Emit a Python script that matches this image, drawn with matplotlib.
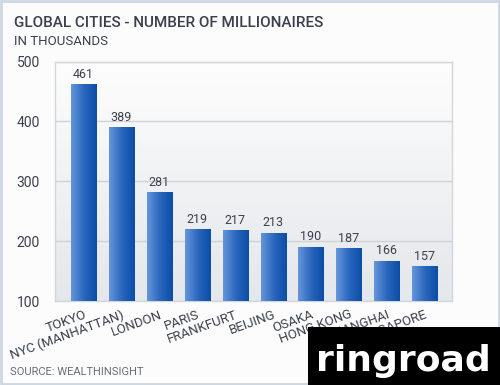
import numpy as np
import matplotlib
matplotlib.use("Agg")
import matplotlib.pyplot as plt
from matplotlib.patches import Rectangle

# data
cities = ["TOKYO", "NYC (MANHATTAN)", "LONDON", "PARIS", "FRANKFURT",
          "BEIJING", "OSAKA", "HONG KONG", "SHANGHAI", "SINGAPORE"]
millionaires = [461, 389, 281, 219, 217, 213, 190, 187, 166, 157]
y_ticks = [100, 200, 300, 400, 500]

TEXT_COLOR = "#3b404e"
plt.rcParams["font.family"] = ["Roboto", "DejaVu Sans"]

fig = plt.figure(figsize=(5.0, 3.85), dpi=100, facecolor="#fbfcfb")
ax = fig.add_axes([0.110, 0.218, 0.794, 0.622])

ax.set_xlim(-0.75, 9.72)
ax.set_ylim(100, 500)

x = np.arange(len(cities))
bars = ax.bar(x, millionaires, width=0.66, color="none",
              edgecolor="none", zorder=3)

# gradient fill on each bar (light blue left -> dark blue right)
grad = np.linspace(0, 1, 64).reshape(1, -1)
cmap = matplotlib.colors.LinearSegmentedColormap.from_list(
    "barblue", ["#6596da", "#2a67bd", "#0b4da6"])
y_bottom = ax.get_ylim()[0]
for b in bars:
    x0, w, h = b.get_x(), b.get_width(), b.get_height()
    ax.imshow(grad, extent=[x0, x0 + w, y_bottom, h], aspect="auto",
              cmap=cmap, zorder=3, interpolation="bicubic")

# plot background gradient (white top -> light gray bottom)
bg = np.linspace(0, 1, 64).reshape(-1, 1)
bg_cmap = matplotlib.colors.LinearSegmentedColormap.from_list(
    "bg", ["#e4e7eb", "#f1f2f4", "#fdfdfd"])
ax.imshow(bg, extent=[0, 1, 0, 1], transform=ax.transAxes, aspect="auto",
          cmap=bg_cmap, zorder=0, origin="lower")

ax.set_xlim(-0.75, 9.72)
ax.set_ylim(100, 500)
ax.set_yticks(y_ticks)
ax.set_yticklabels([str(v) for v in y_ticks], fontsize=10, color=TEXT_COLOR)
ax.tick_params(axis="y", length=0, pad=11)
ax.tick_params(axis="x", length=0, pad=5)
ax.set_xticks(x)
ax.set_xticklabels(cities, rotation=20, ha="right", va="top",
                   rotation_mode="anchor", fontsize=9.5, color=TEXT_COLOR)
ax.grid(axis="y", color="#cfd2d6", linewidth=1, zorder=1)
ax.set_axisbelow(True)
for s in ax.spines.values():
    s.set_color("#d3d6da")
    s.set_linewidth(1)

# value labels
for xi, v in zip(x, millionaires):
    ax.text(xi, v + 7, str(v), ha="center", va="bottom", fontsize=9,
            color=TEXT_COLOR, zorder=4)

# titles
fig.text(0.028, 0.930, "GLOBAL CITIES - NUMBER OF MILLIONAIRES", fontsize=11,
         fontweight="medium", color=TEXT_COLOR, va="baseline")
fig.text(0.028, 0.884, "IN THOUSANDS", fontsize=9.5, color=TEXT_COLOR,
         va="baseline")
fig.text(0.020, 0.027, "SOURCE: WEALTHINSIGHT", fontsize=8, color="#6b6e74",
         va="baseline")

# logo box
fig.patches.append(Rectangle((0.616, 0.0), 0.384, 0.151, transform=fig.transFigure,
                             facecolor="black", edgecolor="none", zorder=5))
fig.text(0.806, 0.036, "ringroad", fontsize=26, fontweight="bold",
         color="white", ha="center", va="baseline", zorder=6,
         family="DejaVu Sans")

# outer border
fig.patches.append(Rectangle((0.002, 0.003), 0.996, 0.994, transform=fig.transFigure,
                             facecolor="none", edgecolor="#cdd8e3", linewidth=2,
                             zorder=4))

fig.savefig("out.png", dpi=100, facecolor=fig.get_facecolor())
